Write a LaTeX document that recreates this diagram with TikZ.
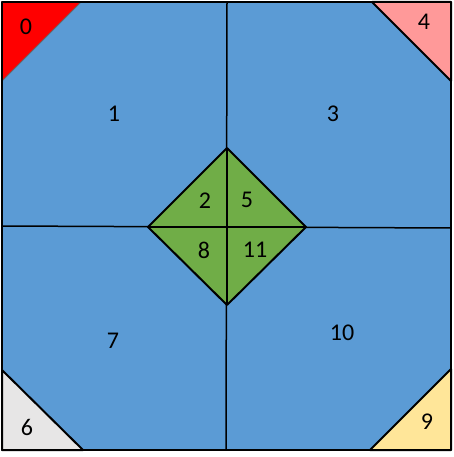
\documentclass[tikz,border=0pt]{standalone}
\usepackage{fontspec}
\setmainfont{Carlito}
\definecolor{tileblue}{HTML}{5B9BD5}
\definecolor{tilegreen}{HTML}{70AD47}
\definecolor{cornerred}{HTML}{FF0000}
\definecolor{cornerpink}{HTML}{FF9999}
\definecolor{cornergrey}{HTML}{E7E6E6}
\definecolor{corneryellow}{HTML}{FFE699}
\begin{document}
\begin{tikzpicture}[
    x=1pt,
    y=-1pt,
    edge/.style={
        draw,
        line width=2pt,
        line join=round
    },
    numtag/.style={
        font=\fontsize{24}{28}\selectfont,
        inner sep=0pt
    }
]
\useasboundingbox (0,0) rectangle (453,457);

% Background square
\fill [tileblue] (2,2) rectangle (451,450);

% Corner triangles
\filldraw [edge, fill=cornerred, draw=black!60, line width=1pt] (2,2) -- (81,2) -- (2,81) -- cycle;
\filldraw [edge, fill=cornerpink] (372,2) -- (451,2) -- (451,81) -- cycle;
\filldraw [edge, fill=cornergrey] (2,370) -- (83,450) -- (2,450) -- cycle;
\filldraw [edge, fill=corneryellow] (451,369) -- (451,450) -- (370,450) -- cycle;

% Dividing lines
\draw [edge, line width=1.5pt] (227,2) -- (226,450);
\draw [edge, line width=1.5pt] (2,226) -- (451,228);

% Centre diamond
\filldraw [edge, fill=tilegreen] (227,148) -- (306,227) -- (227,305) -- (148,227) -- cycle;
\draw [edge] (227,148) -- (227,305);
\draw [edge] (148,227) -- (306,227);

% Outer border
\draw [edge] (2,2) rectangle (451,450);

% Nodes
\node [numtag] (t0) at (26,27) {0};
\node [numtag] (t1) at (114,114) {1};
\node [numtag] (t2) at (205,201) {2};
\node [numtag] (t3) at (333,114) {3};
\node [numtag] (t4) at (424,22) {4};
\node [numtag] (t5) at (247,200) {5};
\node [numtag] (t6) at (27,427) {6};
\node [numtag] (t7) at (113,341) {7};
\node [numtag] (t8) at (204,250) {8};
\node [numtag] (t9) at (427,422) {9};
\node [numtag] (t10) at (342,333) {10};
\node [numtag] (t11) at (255,250) {11};

\end{tikzpicture}
\end{document}
